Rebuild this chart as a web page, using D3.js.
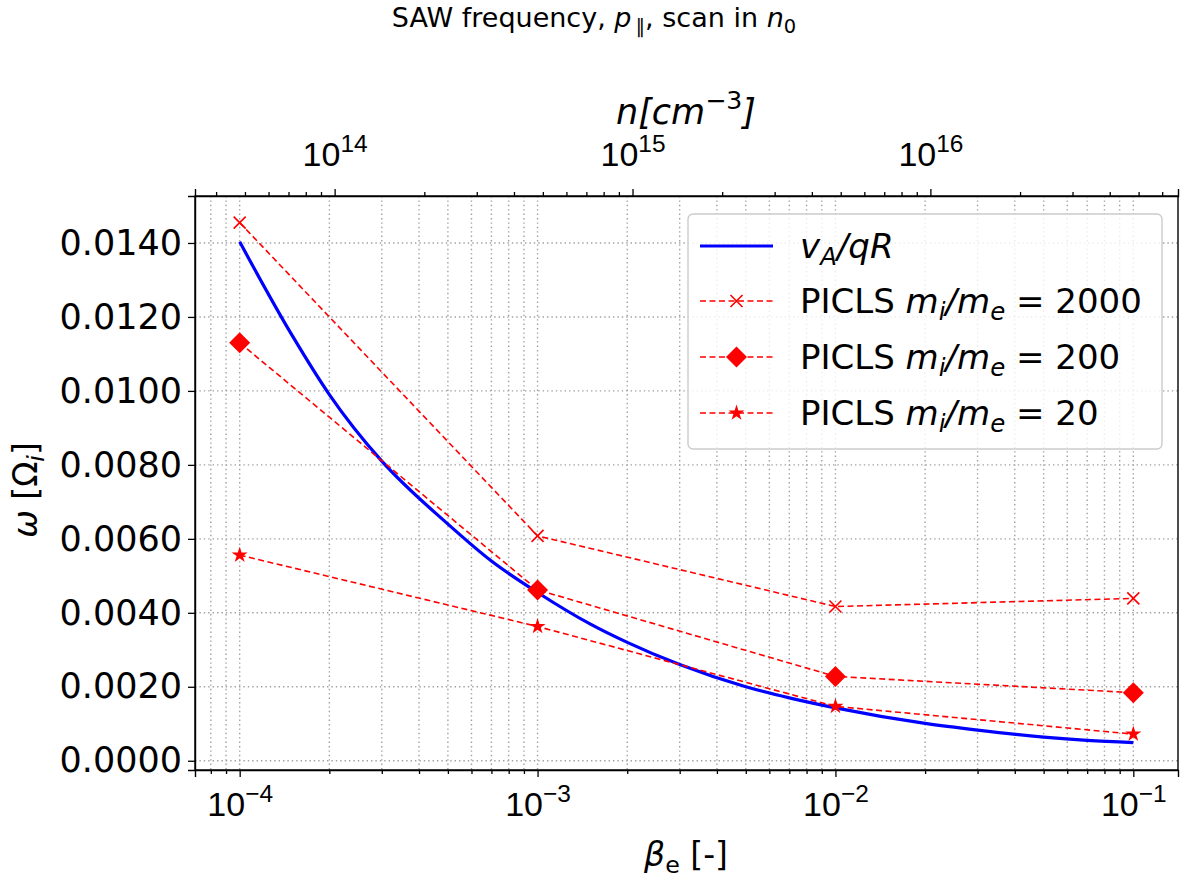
<!DOCTYPE html>
<html>
<head>
<meta charset="utf-8">
<script src="https://cdn.jsdelivr.net/npm/d3@7"></script>
<style>
  body { margin: 0; background: #fff; }
  svg { font-family: "DejaVu Sans", sans-serif; }
</style>
</head>
<body>
<div id="chart"></div>
<script>
const width = 1182, height = 880;

// simulation points (PICLS) at these beta values
const betaSim = [1e-4, 1e-3, 1e-2, 1e-1];
const omega2000 = [0.01455, 0.00608, 0.00417, 0.00439];
const omega200 = [0.0113, 0.00462, 0.00228, 0.00184];
const omega20 = [0.00556, 0.00363, 0.00147, 0.00072];

// v_A/qR curve
const betaTheory = [1e-4, 1.5e-4, 2e-4, 3e-4, 5e-4, 7e-4, 1e-3, 1.5e-3, 2e-3, 3e-3, 5e-3, 7e-3, 1e-2, 2e-2, 3e-2, 5e-2, 7e-2, 1e-1];
const omegaTheory = [0.01403, 0.0115, 0.0099, 0.0081, 0.0064, 0.0054, 0.00455, 0.0037, 0.0032, 0.0026, 0.0020, 0.0017, 0.00143, 0.00101, 0.00083, 0.00064, 0.00055, 0.00049];

const yTicks = [0, 0.002, 0.004, 0.006, 0.008, 0.010, 0.012, 0.014];
const betaTicks = [1e-4, 1e-3, 1e-2, 1e-1];
const nTicks = [1e14, 1e15, 1e16];
const nPerBeta = 4.8e17; // n[cm^-3] = nPerBeta * beta_e

const legendItems = [
  {key: "theory", parts: [{t: "v", it: 1}, {t: "A", it: 1, sub: 1}, {t: "/", it: 1}, {t: "qR", it: 1}]},
  {key: "2000", parts: [{t: "PICLS "}, {t: "m", it: 1}, {t: "i", it: 1, sub: 1}, {t: "/", it: 1}, {t: "m", it: 1}, {t: "e", it: 1, sub: 1}, {t: " = 2000"}]},
  {key: "200", parts: [{t: "PICLS "}, {t: "m", it: 1}, {t: "i", it: 1, sub: 1}, {t: "/", it: 1}, {t: "m", it: 1}, {t: "e", it: 1, sub: 1}, {t: " = 200"}]},
  {key: "20", parts: [{t: "PICLS "}, {t: "m", it: 1}, {t: "i", it: 1, sub: 1}, {t: "/", it: 1}, {t: "m", it: 1}, {t: "e", it: 1, sub: 1}, {t: " = 20"}]}
];

const plot = {left: 195, right: 1178, top: 196, bottom: 770};

const x = d3.scaleLog()
  .domain([Math.pow(10, -4.15), Math.pow(10, -0.85)])
  .range([plot.left, plot.right]);
const xTop = d3.scaleLog()
  .domain(x.domain().map(d => d * nPerBeta))
  .range([plot.left, plot.right]);
const y = d3.scaleLinear()
  .domain([-0.00025, 0.01527])
  .range([plot.bottom, plot.top]);

const svg = d3.select("#chart").append("svg")
  .attr("width", width)
  .attr("height", height);

// writes mathtext-like pieces into a text element
function mathText(text, parts, size) {
  let shift = 0;
  parts.forEach((p, i) => {
    let want = p.sub ? size * 0.22 : (p.sup ? -size * 0.42 : 0);
    let ts = text.append("tspan")
      .attr("font-style", p.it ? "italic" : "normal")
      .attr("font-size", (p.sub || p.sup) ? size * 0.72 : size)
      .text(p.t);
    if (want - shift !== 0) ts.attr("dy", want - shift);
    shift = want;
  });
}

function minorTicks(scale) {
  let [a, b] = scale.domain();
  let out = [];
  for (let e = Math.floor(Math.log10(a)); e <= Math.ceil(Math.log10(b)); e++) {
    for (let k = 2; k <= 9; k++) {
      let v = k * Math.pow(10, e);
      if (v >= a && v <= b) out.push(v);
    }
  }
  return out;
}

// grid
let grid = svg.append("g")
  .attr("stroke", "#a0a0a0")
  .attr("stroke-width", 1.4)
  .attr("stroke-dasharray", "1.4,3");
grid.selectAll(".vx")
  .data(betaTicks.concat(minorTicks(x)).filter(d => d >= x.domain()[0] && d <= x.domain()[1]))
  .join("line")
    .attr("x1", d => x(d)).attr("x2", d => x(d))
    .attr("y1", plot.top).attr("y2", plot.bottom);
grid.selectAll(".hy")
  .data(yTicks)
  .join("line")
    .attr("x1", plot.left).attr("x2", plot.right)
    .attr("y1", d => y(d)).attr("y2", d => y(d));

// curves
let line = d3.line()
  .x(d => x(d[0]))
  .y(d => y(d[1]));

svg.append("path")
  .datum(betaTheory.map((b, i) => [b, omegaTheory[i]]))
  .attr("fill", "none")
  .attr("stroke", "#0000ff")
  .attr("stroke-width", 3.2)
  .attr("d", line.curve(d3.curveMonotoneX));

let simSeries = [
  {key: "2000", values: omega2000},
  {key: "200", values: omega200},
  {key: "20", values: omega20}
];

function drawMarker(g, key, cx, cy) {
  if (key === "2000") {
    let s = 6;
    g.append("path")
      .attr("d", `M${cx - s},${cy - s}L${cx + s},${cy + s}M${cx - s},${cy + s}L${cx + s},${cy - s}`)
      .attr("stroke", "#ff0000").attr("stroke-width", 1.6).attr("fill", "none");
  } else if (key === "200") {
    let s = 10.5;
    g.append("path")
      .attr("d", `M${cx},${cy - s}L${cx + s},${cy}L${cx},${cy + s}L${cx - s},${cy}Z`)
      .attr("fill", "#ff0000");
  } else if (key === "20") {
    g.append("path")
      .attr("transform", `translate(${cx},${cy})`)
      .attr("d", d3.symbol(d3.symbolStar, 80)())
      .attr("fill", "#ff0000");
  }
}

simSeries.forEach(s => {
  let pts = betaSim.map((b, i) => [b, s.values[i]]);
  svg.append("path")
    .datum(pts)
    .attr("fill", "none")
    .attr("stroke", "#ff0000")
    .attr("stroke-width", 1.6)
    .attr("stroke-dasharray", "6,3.5")
    .attr("d", d3.line().x(d => x(d[0])).y(d => y(d[1])));
  let g = svg.append("g");
  pts.forEach(p => drawMarker(g, s.key, x(p[0]), y(p[1])));
});

// axes
const tickFont = 34;
function powerLabels(g, yPos) {
  g.selectAll(".tick text").each(function(d) {
    let t = d3.select(this);
    let e = Math.round(Math.log10(d));
    t.text(null)
      .attr("dy", null)
      .attr("y", yPos)
      .attr("font-size", tickFont)
      .attr("fill", "#000");
    mathText(t, [{t: "10"}, {t: (e < 0 ? "\u2212" : "") + Math.abs(e), sup: 1}], tickFont);
  });
}

svg.append("g")
  .attr("transform", `translate(0,${plot.bottom})`)
  .call(d3.axisBottom(x).tickValues(betaTicks).tickSize(7).tickFormat(d => d))
  .call(g => powerLabels(g, 46));
svg.append("g")
  .attr("transform", `translate(0,${plot.bottom})`)
  .call(d3.axisBottom(x).tickValues(minorTicks(x)).tickSize(4).tickFormat(""))
  .call(g => g.select(".domain").remove());

svg.append("g")
  .attr("transform", `translate(0,${plot.top})`)
  .call(d3.axisTop(xTop).tickValues(nTicks).tickSize(7).tickFormat(d => d))
  .call(g => powerLabels(g, -30));
svg.append("g")
  .attr("transform", `translate(0,${plot.top})`)
  .call(d3.axisTop(xTop).tickValues(minorTicks(xTop)).tickSize(4).tickFormat(""))
  .call(g => g.select(".domain").remove());

svg.append("g")
  .attr("transform", `translate(${plot.left},0)`)
  .call(d3.axisLeft(y).tickValues(yTicks).tickSize(7).tickPadding(6).tickFormat(d3.format(".4f")))
  .call(g => g.selectAll(".tick text").attr("font-size", 35).attr("fill", "#000")
    .attr("font-family", "DejaVu Sans"));

svg.selectAll(".domain").attr("stroke", "#000").attr("stroke-width", 1.4);
svg.selectAll(".tick line").attr("stroke", "#000").attr("stroke-width", 1.3);

// frame
svg.append("rect")
  .attr("x", plot.left).attr("y", plot.top)
  .attr("width", plot.right - plot.left).attr("height", plot.bottom - plot.top)
  .attr("fill", "none").attr("stroke", "#000").attr("stroke-width", 1.4);

// labels
let title = svg.append("text")
  .attr("x", 594).attr("y", 27)
  .attr("text-anchor", "middle")
  .attr("font-size", 27);
mathText(title, [{t: "SAW frequency, "}, {t: "p", it: 1}, {t: "\u2009\u2225", sub: 1}, {t: ", scan in "}, {t: "n", it: 1}, {t: "0", sub: 1}], 27);

let topLabel = svg.append("text")
  .attr("x", 686).attr("y", 124)
  .attr("text-anchor", "middle")
  .attr("font-size", 35);
mathText(topLabel, [{t: "n", it: 1}, {t: "[", it: 1}, {t: "cm", it: 1}, {t: "\u22123", sup: 1}, {t: "]", it: 1}], 35);

let bottomLabel = svg.append("text")
  .attr("x", 686).attr("y", 866)
  .attr("text-anchor", "middle")
  .attr("font-size", 33);
mathText(bottomLabel, [{t: "\u03b2", it: 1}, {t: "e", it: 0, sub: 1}, {t: " [-]"}], 33);

let yLabel = svg.append("text")
  .attr("transform", "translate(37,490) rotate(-90)")
  .attr("text-anchor", "middle")
  .attr("font-size", 33);
mathText(yLabel, [{t: "\u03c9", it: 1}, {t: " [\u03a9"}, {t: "i", it: 1, sub: 1}, {t: "]"}], 33);

// legend
let lg = svg.append("g");
lg.append("rect")
  .attr("x", 688).attr("y", 214)
  .attr("width", 474).attr("height", 235)
  .attr("rx", 5)
  .attr("fill", "#fff").attr("fill-opacity", 0.8)
  .attr("stroke", "#cccccc").attr("stroke-width", 1.4);
const legendRowY = [246, 301, 357, 413];
legendItems.forEach((it, i) => {
  let cy = legendRowY[i];
  if (it.key === "theory") {
    lg.append("line").attr("x1", 700).attr("x2", 773).attr("y1", cy).attr("y2", cy)
      .attr("stroke", "#0000ff").attr("stroke-width", 3.2);
  } else {
    lg.append("line").attr("x1", 700).attr("x2", 773).attr("y1", cy).attr("y2", cy)
      .attr("stroke", "#ff0000").attr("stroke-width", 1.6).attr("stroke-dasharray", "6,3.5");
    drawMarker(lg, it.key, 736.5, cy);
  }
  let t = lg.append("text")
    .attr("x", 800).attr("y", cy + 12)
    .attr("font-size", 34);
  mathText(t, it.parts, 34);
});
</script>
</body>
</html>
